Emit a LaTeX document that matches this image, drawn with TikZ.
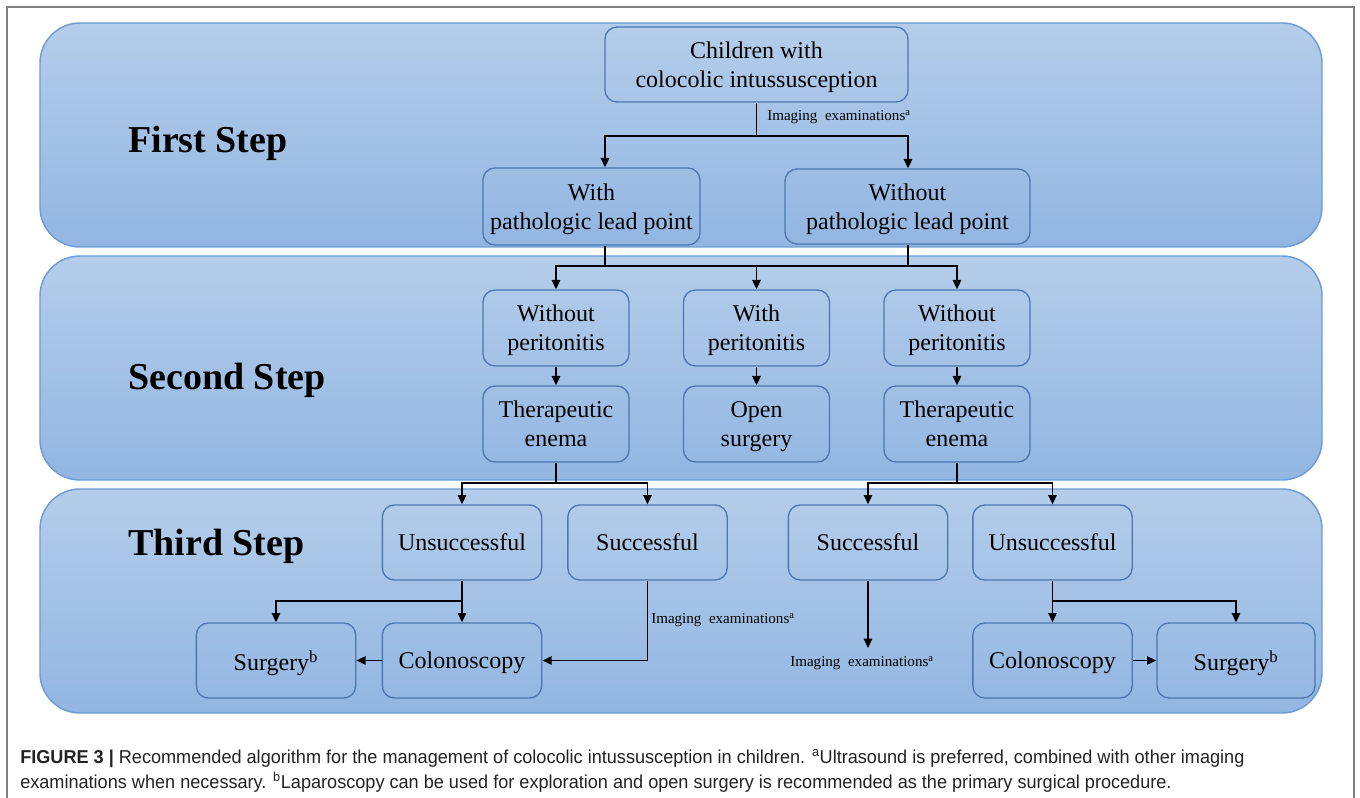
\documentclass[tikz,border=0pt]{standalone}
\usepackage{fontspec}
\setmainfont{Liberation Serif}
\newfontfamily\capfont[FakeStretch=0.97]{Liberation Sans}
\usetikzlibrary{arrows.meta}
\definecolor{pantop}{HTML}{B4CDEA}
\definecolor{panbot}{HTML}{92B6E2}
\definecolor{panline}{HTML}{6D9DD6}
\definecolor{boxline}{HTML}{4E77AE}
\definecolor{captext}{HTML}{222222}
\definecolor{framegray}{HTML}{7F7F7F}
\begin{document}
\begin{tikzpicture}[x=0.75pt,y=-0.75pt,
  panel/.style={draw=panline,line width=1.1pt,rounded corners=30pt,top color=pantop,bottom color=panbot},
  box/.style={draw=boxline,line width=1pt,rounded corners=9pt,align=center,
    font=\fontsize{18}{22}\selectfont,inner sep=0pt,text depth=0pt},
  bw/.style={box,minimum width=109.5pt,minimum height=57pt},
  tw/.style={box,minimum width=119.5pt,minimum height=56.25pt},
  steplabel/.style={font=\fontsize{28.5}{32}\selectfont\bfseries,anchor=base west,inner sep=0pt},
  small/.style={font=\fontsize{11.3}{13}\selectfont,inner sep=0pt},
  ln/.style={line width=1.1pt},
  arr/.style={line width=1.1pt,-{Triangle[length=7pt,width=6.3pt]}},
  captxt/.style={font=\capfont\fontsize{14}{17}\selectfont,text=captext,anchor=base west,inner sep=0pt}
]
\useasboundingbox (0,0) rectangle (1360,798);
% outer frame
\draw[framegray,line width=1.2pt] (7,798) -- (7,7) -- (1354,7) -- (1354,798);
% panels
\draw[panel] (40,23) rectangle (1322,247);
\draw[panel] (40,256) rectangle (1322,480);
\draw[panel] (40,489) rectangle (1322,713);
% step labels
\node[steplabel] (st1) at (128,153) {First Step};
\node[steplabel] (st2) at (128,390) {Second Step};
\node[steplabel] (st3) at (128,555) {Third Step};
% first step
\node[box,minimum width=227.25pt,minimum height=56.25pt] (ch) at (756.5,64.5) {Children with\\colocolic intussusception};
\node[box,minimum width=162.75pt,minimum height=57.75pt] (wp) at (591.5,206.5) {With\\pathologic lead point};
\node[box,minimum width=183.75pt,minimum height=56.25pt] (wop) at (907.5,206.5) {Without\\pathologic lead point};
% second step
\node[bw] (p1) at (556,328) {Without\\peritonitis};
\node[bw] (p2) at (756.5,328) {With\\peritonitis};
\node[bw] (p3) at (957,328) {Without\\peritonitis};
\node[bw] (e1) at (556,424) {Therapeutic\\enema};
\node[bw] (e2) at (756.5,424) {Open\\surgery};
\node[bw] (e3) at (957,424) {Therapeutic\\enema};
% third step
\node[tw] (u1) at (462,542.5) {Unsuccessful};
\node[tw] (s1) at (647.5,542.5) {Successful};
\node[tw] (s2) at (868,542.5) {Successful};
\node[tw] (u2) at (1052.5,542.5) {Unsuccessful};
\node[tw] (g1) at (276,660.5) {Surgery\textsuperscript{b}};
\node[tw] (c1) at (462,660.5) {Colonoscopy};
\node[tw] (c2) at (1052.5,660.5) {Colonoscopy};
\node[tw,minimum width=118.5pt] (g2) at (1236,660.5) {Surgery\textsuperscript{b}};
% small labels
\node[small,anchor=west] (im1) at (767,117) {Imaging\ \ examinations\textsuperscript{a}};
\node[small,anchor=west] (im2) at (651,620) {Imaging\ \ examinations\textsuperscript{a}};
\node[small] (im3) at (862,663) {Imaging\ \ examinations\textsuperscript{a}};
% connectors first step
\coordinate (j1) at (756.5,136);
\draw[ln] (ch.south) -- (j1);
\draw[arr] (j1) -| (wp.north -| 605,0);
\draw[arr] (j1) -| (wop.north -| 908,0);
% to second step
\coordinate (j2) at (756.5,266);
\draw[ln] (wp.south -| 605,0) |- (j2);
\draw[ln] (wop.south -| 908,0) |- (j2);
\draw[arr] (j2) -| (p1.north);
\draw[arr] (j2) -- (p2.north);
\draw[arr] (j2) -| (p3.north);
\draw[arr] (p1.south) -- (e1.north);
\draw[arr] (p2.south) -- (e2.north);
\draw[arr] (p3.south) -- (e3.north);
% to third step
\coordinate (j3) at (556,483);
\draw[ln] (e1.south) -- (j3);
\draw[arr] (j3) -| (u1.north);
\draw[arr] (j3) -| (s1.north);
\coordinate (j4) at (957,483);
\draw[ln] (e3.south) -- (j4);
\draw[arr] (j4) -| (s2.north);
\draw[arr] (j4) -| (u2.north);
% third step inner
\draw[arr] (u1.south) -- (c1.north);
\coordinate (j5) at (462,601);
\draw[arr] (j5) -| (g1.north);
\draw[arr] (c1.west) -- (g1.east);
\draw[arr] (s1.south) |- (c1.east);
\draw[arr] (s2.south) -- (s2.south |- 0,648);
\draw[arr] (u2.south) -- (c2.north);
\coordinate (j6) at (1052.5,601);
\draw[arr] (j6) -| (g2.north);
\draw[arr] (c2.east) -- (g2.west);
% caption
\node[captxt] (cap1) at (20,763) {\textbf{FIGURE 3 |} Recommended algorithm for the management of colocolic intussusception in children. \textsuperscript{a}Ultrasound is preferred, combined with other imaging};
\node[captxt] (cap2) at (20,788) {examinations when necessary. \textsuperscript{b}Laparoscopy can be used for exploration and open surgery is recommended as the primary surgical procedure.};
\end{tikzpicture}
\end{document}
